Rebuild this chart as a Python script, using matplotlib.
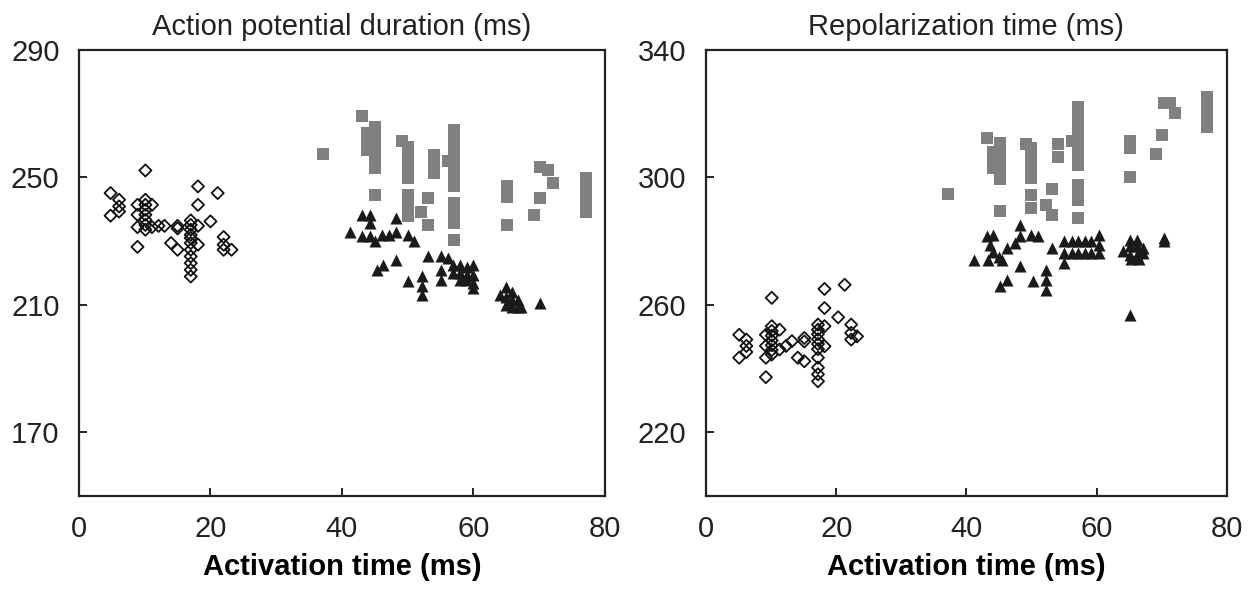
import matplotlib
matplotlib.use("Agg")
import matplotlib.pyplot as plt

plt.rcParams['font.family'] = ['Liberation Sans', 'DejaVu Sans']

# ---- Action potential duration (left) ----
apd_diamond_x = [4.8, 6.1, 6.1, 6.1, 4.8,
                 10.1, 8.9, 8.9, 8.9, 8.9,
                 10.1, 10.1, 10.1, 10.1, 10.1, 10.1, 10.1,
                 11.1, 11.1, 12.1, 13.0, 15.0, 15.0, 14.0, 15.0,
                 17.0, 17.0, 17.0, 17.0, 17.0, 17.0, 17.0, 17.0, 17.0, 17.0, 17.0,
                 18.1, 18.1, 18.1, 18.1, 20.0, 21.1, 22.0, 22.0, 22.0, 23.2]
apd_diamond_y = [245.1, 243.0, 240.9, 239.3, 238.0,
                 252.2, 241.4, 238.3, 234.4, 228.2,
                 243.0, 241.4, 239.8, 238.3, 236.7, 235.1, 233.6,
                 241.4, 234.4, 234.8, 234.8, 234.8, 234.0, 229.4, 227.3,
                 236.5, 235.1, 233.6, 232.0, 231.0, 229.4, 227.3, 225.2, 223.1, 221.0, 218.9,
                 247.2, 241.4, 234.8, 228.9, 236.2, 245.1, 231.3, 228.9, 227.3, 227.3]

apd_square_x = [37.1, 43.0, 43.8, 43.8, 43.8,
                45.1, 45.1, 45.1, 45.1, 45.1, 45.1, 45.1,
                49.1, 50.0, 50.0, 50.0, 50.0, 50.0, 50.0, 50.0,
                52.1, 53.1, 53.1, 54.0, 54.0, 54.0, 56.1,
                57.1, 57.1, 57.1, 57.1, 57.1, 57.1, 57.1, 57.1, 57.1, 57.1, 57.1,
                65.1, 65.1, 65.1, 70.1, 71.3, 72.1, 70.1, 69.2,
                77.1, 77.1, 77.1, 77.1]
apd_square_y = [257.3, 269.3, 263.9, 261.0, 258.7,
                266.0, 263.0, 260.0, 257.0, 254.5, 252.9, 244.5,
                261.5, 259.7, 256.5, 253.3, 249.8, 244.5, 240.9, 237.8,
                239.3, 243.5, 235.1, 257.1, 254.2, 251.4, 255.2,
                264.9, 261.8, 258.7, 255.6, 252.4, 249.3, 247.2, 242.0, 238.8, 235.7, 230.4,
                247.2, 244.0, 235.1, 253.4, 252.4, 248.2, 243.5, 238.3,
                249.8, 246.3, 242.8, 239.3]

apd_triangle_x = [41.2, 43.0, 44.2, 44.2, 43.0, 44.2, 45.1, 46.1, 47.1, 48.2, 48.2, 50.0, 51.0,
                  45.3, 46.3, 48.2, 50.0, 52.2, 52.2, 52.2, 53.1, 55.0, 55.0, 55.0, 56.2,
                  56.9, 57.9, 59.0, 60.0, 56.9, 57.9, 59.0, 60.0, 57.9, 59.0, 60.0, 60.0,
                  64.0, 65.0, 65.0, 65.8, 65.8, 66.8, 65.0, 65.8, 66.8, 67.3, 70.1]
apd_triangle_y = [233.0, 238.3, 238.3, 235.7, 231.5, 231.5, 229.9, 232.0, 232.0, 237.2, 233.0, 232.0, 229.9,
                  221.0, 222.6, 224.2, 217.4, 219.0, 215.9, 213.2, 225.2, 225.2, 221.0, 217.9, 224.7,
                  222.5, 222.5, 222.0, 222.5, 219.9, 219.9, 219.4, 219.4, 217.8, 217.8, 216.8, 215.2,
                  213.1, 215.7, 212.6, 214.1, 211.5, 211.5, 210.0, 209.4, 209.4, 209.4, 210.6]

# ---- Repolarization time (right) ----
rt_diamond_x = [5.1, 5.1, 6.2, 6.2, 6.2,
                10.1, 9.2, 9.2, 9.2, 9.2,
                10.1, 10.1, 10.1, 10.1, 10.1, 10.1, 10.1,
                11.3, 11.3, 12.3, 13.2, 14.1, 15.1, 15.1, 15.1,
                17.2, 17.2, 17.2, 17.2, 17.2, 17.2, 17.2, 17.2, 17.2, 17.2,
                18.2, 18.2, 18.2, 18.2, 20.3, 21.3, 22.3, 22.3, 22.3, 23.2]
rt_diamond_y = [250.6, 243.4, 249.1, 247.1, 245.2,
                262.2, 250.6, 247.1, 243.4, 237.3,
                253.3, 251.8, 250.3, 248.8, 247.3, 245.8, 244.4,
                252.2, 246.0, 247.1, 248.6, 243.4, 249.6, 248.5, 242.3,
                253.8, 252.2, 250.8, 249.2, 247.7, 246.1, 243.4, 240.3, 238.2, 236.0,
                265.0, 259.0, 253.3, 247.0, 256.1, 266.3, 253.8, 251.2, 249.1, 250.1]

rt_square_x = [37.1, 43.2, 44.1, 44.1, 44.1,
               45.1, 45.1, 45.1, 45.1, 45.1, 45.1,
               49.1, 50.0, 50.0, 50.0, 50.0, 50.0, 50.0,
               52.2, 53.1, 53.1, 54.0, 54.0, 56.2,
               57.2, 57.2, 57.2, 57.2, 57.2, 57.2, 57.2, 57.2, 57.2, 57.2, 57.2,
               65.1, 65.1, 65.1, 69.1, 70.1, 70.3, 71.3, 72.0,
               77.0, 77.0, 77.0, 77.0]
rt_square_y = [294.7, 312.5, 308.1, 305.5, 302.9,
               310.8, 307.8, 304.8, 302.4, 299.5, 289.4,
               310.6, 309.3, 306.1, 302.9, 299.8, 294.6, 290.4,
               291.4, 296.3, 288.3, 310.5, 306.3, 311.3,
               322.2, 319.1, 316.0, 313.0, 310.0, 307.0, 303.9, 297.7, 295.3, 293.0, 287.2,
               311.3, 309.3, 300.3, 307.3, 313.4, 323.3, 323.3, 320.2,
               325.4, 322.3, 319.2, 316.0]

rt_triangle_x = [41.1, 43.1, 44.1, 43.6, 44.1, 43.3, 45.0, 45.5,
                 46.2, 45.1, 46.2, 47.4, 48.2, 48.2, 48.2, 50.0, 51.0, 50.3,
                 52.2, 52.2, 52.2, 53.2, 55.0, 55.0, 55.0,
                 56.2, 57.2, 58.2, 59.2, 60.3, 57.2, 58.2, 59.2, 60.3, 60.3, 56.2,
                 64.1, 65.1, 66.2, 65.1, 66.2, 67.2, 65.1, 66.2, 67.2, 65.3, 66.5,
                 65.1, 70.3, 70.3]
rt_triangle_y = [274.2, 281.5, 282.0, 278.9, 276.5, 274.2, 275.0, 274.2,
                 277.8, 265.8, 267.9, 279.4, 285.1, 281.5, 272.1, 282.0, 281.5, 267.4,
                 271.0, 267.9, 264.8, 277.8, 279.9, 276.3, 273.0,
                 279.9, 279.9, 279.9, 279.9, 282.0, 276.3, 276.3, 276.3, 276.3, 278.9, 276.3,
                 276.8, 280.5, 280.5, 278.4, 278.4, 278.0, 275.8, 275.8, 276.3, 274.3, 274.3,
                 256.9, 281.0, 280.0]

x_ticks = [0, 20, 40, 60, 80]
apd_ticks = [170, 210, 250, 290]
rt_ticks = [220, 260, 300, 340]

fig = plt.figure(figsize=(12.58, 5.89), dpi=100)
ax1 = fig.add_axes([0.0628, 0.158, 0.418, 0.757])
ax2 = fig.add_axes([0.5612, 0.158, 0.414, 0.757])

panels = [
    (ax1, apd_diamond_x, apd_diamond_y, apd_square_x, apd_square_y,
     apd_triangle_x, apd_triangle_y, apd_ticks, (150, 290), 'Action potential duration (ms)'),
    (ax2, rt_diamond_x, rt_diamond_y, rt_square_x, rt_square_y,
     rt_triangle_x, rt_triangle_y, rt_ticks, (200, 340), 'Repolarization time (ms)'),
]

for ax, dx, dy, sx, sy, tx, ty, yticks, ylim, title in panels:
    ax.scatter(sx, sy, marker='s', s=70, color='#808080', linewidths=0, zorder=2)
    ax.scatter(tx, ty, marker='^', s=75, color='#1a1a1a', linewidths=0, zorder=3)
    ax.scatter(dx, dy, marker='D', s=38, facecolors='none', edgecolors='#111111',
               linewidths=1.3, zorder=4)
    ax.set_xlim(0, 80)
    ax.set_ylim(*ylim)
    ax.set_xticks(x_ticks)
    ax.set_yticks(yticks)
    ax.tick_params(direction='in', length=6, width=1.4, labelsize=21, pad=14,
                   colors='#222222')
    for sp in ax.spines.values():
        sp.set_linewidth(1.6)
        sp.set_color('#222222')
    ax.set_title(title, fontsize=21, pad=11, color='#222222')
    ax.set_xlabel('Activation time (ms)', fontsize=21, fontweight='bold', labelpad=7)

fig.savefig('out.png', dpi=100)
